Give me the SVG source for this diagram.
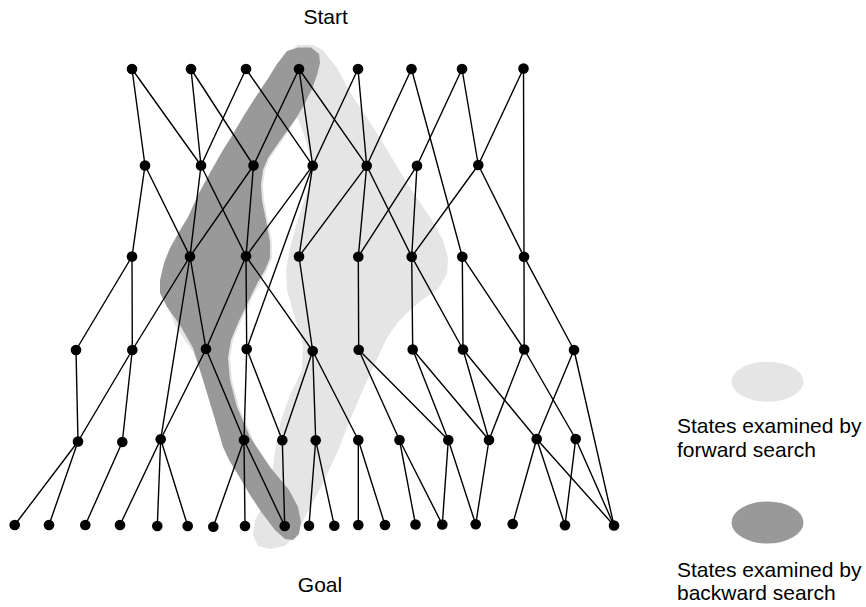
<svg xmlns="http://www.w3.org/2000/svg" width="866" height="607" viewBox="0 0 866 607">
<style>
.lt{fill:#e5e5e5}
.dk{fill:#999999}
.hole{fill:#ffffff}
#connectors line{stroke:#000;stroke-width:1.4;stroke-linecap:round}
.n{fill:#000}
text{font-family:"Liberation Sans",Arial,Helvetica,sans-serif;font-size:21px;fill:#000}
</style>
<rect width="866" height="607" fill="#fff"/>
<g id="regions">
<path id="forward-region" class="lt" d="M297,45 L313,45 L323,50 L337,68 L350,92 L367,118 L380,138 L395,163 L410,188 L430,217 L443,240 L448,258 L447,274 L438,289 L422,300 L410,310 L398,322 L387,338 L375,363 L362,392 L350,420 L337,453 L321,487 L307,513 L296,535 L285,546 L270,549 L258,546 L253,535 L255,520 L262,508 L250,490 L232,465 L218,420 L206,380 L193,352 L175,325 L166,300 L168,275 L180,245 L200,205 L225,160 L255,110 L285,58 Z"/>
<path id="hole" class="hole" d="M297,116 L305,138 L311,160 L311,175 L306,195 L297,222 L290,248 L286,270 L287,290 L294,315 L303,345 L302,370 L290,395 L281,420 L276,445 L273,466 L271,478 L262,464 L252,437 L239,407 L232,380 L230,358 L233,340 L241,321 L251,300 L260,283 L267,270 L272,258 L272,242 L268,220 L264,200 L263,185 L265,170 L270,158 L279,145 L289,131 Z"/>
<path id="backward-region" class="dk" d="M287,51 L298,47.5 L311,47.5 L319,54 L320,63 L317,75 L312,89 L305,103 L297,117 L287,131 L277,145 L268,158 L263,170 L261,185 L262,200 L266,220 L270,242 L270,258 L265,270 L258,282 L249,300 L239,321 L231,340 L228,358 L230,380 L237,407 L250,437 L270,467 L289,490 L298,507 L301,522 L299,534 L293,540 L285,539 L275,530 L262,513 L250,495 L237,473 L229,460 L223,447 L213,413 L203,380 L193,348 L180,325 L167,307 L160,293 L160,280 L164,263 L170,248 L179,232 L188,217 L199,193 L211,171 L223,150 L233,134 L243,117 L255,98 L267,80 L277,64 Z"/>
</g>
<g id="connectors">
<line x1="132" y1="69" x2="145" y2="165.5"/>
<line x1="132" y1="69" x2="201" y2="165.5"/>
<line x1="191" y1="69" x2="201" y2="165.5"/>
<line x1="191" y1="69" x2="253.5" y2="165.5"/>
<line x1="246" y1="69" x2="201" y2="165.5"/>
<line x1="246" y1="69" x2="312.7" y2="165.7"/>
<line x1="299" y1="69" x2="253.5" y2="165.5"/>
<line x1="299" y1="69" x2="312.7" y2="165.7"/>
<line x1="299" y1="69" x2="366.7" y2="165.7"/>
<line x1="358" y1="69" x2="312.7" y2="165.7"/>
<line x1="358" y1="69" x2="366.7" y2="165.7"/>
<line x1="411.5" y1="69" x2="366.7" y2="165.7"/>
<line x1="411.5" y1="69" x2="462.3" y2="256.7"/>
<line x1="462" y1="69" x2="417" y2="165.7"/>
<line x1="462" y1="69" x2="478.3" y2="165"/>
<line x1="523.5" y1="68.5" x2="478.3" y2="165"/>
<line x1="523.5" y1="68.5" x2="524" y2="256.7"/>
<line x1="145" y1="165.5" x2="132" y2="256.5"/>
<line x1="145" y1="165.5" x2="190" y2="256.5"/>
<line x1="201" y1="165.5" x2="190" y2="256.5"/>
<line x1="201" y1="165.5" x2="246" y2="256.3"/>
<line x1="253.5" y1="165.5" x2="190" y2="256.5"/>
<line x1="253.5" y1="165.5" x2="246" y2="256.3"/>
<line x1="312.7" y1="165.7" x2="246" y2="256.3"/>
<line x1="312.7" y1="165.7" x2="299" y2="256.5"/>
<line x1="312.7" y1="165.7" x2="246.7" y2="349"/>
<line x1="366.7" y1="165.7" x2="299" y2="256.5"/>
<line x1="366.7" y1="165.7" x2="358.3" y2="256.7"/>
<line x1="366.7" y1="165.7" x2="411.7" y2="256.7"/>
<line x1="417" y1="165.7" x2="358.3" y2="256.7"/>
<line x1="417" y1="165.7" x2="411.7" y2="256.7"/>
<line x1="478.3" y1="165" x2="411.7" y2="256.7"/>
<line x1="478.3" y1="165" x2="524" y2="256.7"/>
<line x1="132" y1="256.5" x2="76" y2="350"/>
<line x1="132" y1="256.5" x2="132.3" y2="350"/>
<line x1="190" y1="256.5" x2="132.3" y2="350"/>
<line x1="190" y1="256.5" x2="206" y2="349"/>
<line x1="190" y1="256.5" x2="160.7" y2="439.3"/>
<line x1="246" y1="256.3" x2="206" y2="349"/>
<line x1="246" y1="256.3" x2="246.7" y2="349"/>
<line x1="246" y1="256.3" x2="312.7" y2="351"/>
<line x1="299" y1="256.5" x2="312.7" y2="351"/>
<line x1="358.3" y1="256.7" x2="358.7" y2="349.7"/>
<line x1="411.7" y1="256.7" x2="412.7" y2="349.5"/>
<line x1="411.7" y1="256.7" x2="463" y2="349.5"/>
<line x1="462.3" y1="256.7" x2="463" y2="349.5"/>
<line x1="462.3" y1="256.7" x2="524.2" y2="349.5"/>
<line x1="524" y1="256.7" x2="524.2" y2="349.5"/>
<line x1="524" y1="256.7" x2="574" y2="350"/>
<line x1="76" y1="350" x2="78" y2="441.5"/>
<line x1="132.3" y1="350" x2="78" y2="441.5"/>
<line x1="132.3" y1="350" x2="122.3" y2="442"/>
<line x1="206" y1="349" x2="160.7" y2="439.3"/>
<line x1="206" y1="349" x2="244" y2="440"/>
<line x1="246.7" y1="349" x2="244" y2="440"/>
<line x1="246.7" y1="349" x2="282.3" y2="440.3"/>
<line x1="312.7" y1="351" x2="282.3" y2="440.3"/>
<line x1="312.7" y1="351" x2="315.7" y2="440.3"/>
<line x1="312.7" y1="351" x2="358.3" y2="440"/>
<line x1="358.7" y1="349.7" x2="399.5" y2="440"/>
<line x1="358.7" y1="349.7" x2="448.3" y2="440"/>
<line x1="412.7" y1="349.5" x2="448.3" y2="440"/>
<line x1="412.7" y1="349.5" x2="489" y2="440"/>
<line x1="463" y1="349.5" x2="489" y2="440"/>
<line x1="463" y1="349.5" x2="536.7" y2="439"/>
<line x1="524.2" y1="349.5" x2="489" y2="440"/>
<line x1="524.2" y1="349.5" x2="575.7" y2="439"/>
<line x1="574" y1="350" x2="536.7" y2="439"/>
<line x1="574" y1="350" x2="614" y2="525.5"/>
<line x1="78" y1="441.5" x2="14.7" y2="525"/>
<line x1="78" y1="441.5" x2="49" y2="525"/>
<line x1="122.3" y1="442" x2="85.3" y2="525"/>
<line x1="160.7" y1="439.3" x2="120" y2="525"/>
<line x1="160.7" y1="439.3" x2="157.3" y2="526"/>
<line x1="160.7" y1="439.3" x2="187.7" y2="526"/>
<line x1="244" y1="440" x2="213.3" y2="526.7"/>
<line x1="244" y1="440" x2="245" y2="526"/>
<line x1="244" y1="440" x2="284.7" y2="526"/>
<line x1="282.3" y1="440.3" x2="284.7" y2="526"/>
<line x1="315.7" y1="440.3" x2="309" y2="525.7"/>
<line x1="315.7" y1="440.3" x2="334.3" y2="525.7"/>
<line x1="358.3" y1="440" x2="358.3" y2="525"/>
<line x1="358.3" y1="440" x2="385" y2="525"/>
<line x1="399.5" y1="440" x2="415.5" y2="524.5"/>
<line x1="399.5" y1="440" x2="442.3" y2="524.5"/>
<line x1="448.3" y1="440" x2="442.3" y2="524.5"/>
<line x1="448.3" y1="440" x2="475.7" y2="524.3"/>
<line x1="489" y1="440" x2="475.7" y2="524.3"/>
<line x1="536.7" y1="439" x2="512.7" y2="524"/>
<line x1="536.7" y1="439" x2="565" y2="525.3"/>
<line x1="536.7" y1="439" x2="614" y2="525.5"/>
<line x1="575.7" y1="439" x2="565" y2="525.3"/>
<line x1="575.7" y1="439" x2="614" y2="525.5"/>
</g>
<g id="nodes">
<g id="a0"><circle class="n" cx="132" cy="69" r="5.3"/></g>
<g id="a1"><circle class="n" cx="191" cy="69" r="5.3"/></g>
<g id="a2"><circle class="n" cx="246" cy="69" r="5.3"/></g>
<g id="a3"><circle class="n" cx="299" cy="69" r="5.3"/></g>
<g id="a4"><circle class="n" cx="358" cy="69" r="5.3"/></g>
<g id="a5"><circle class="n" cx="411.5" cy="69" r="5.3"/></g>
<g id="a6"><circle class="n" cx="462" cy="69" r="5.3"/></g>
<g id="a7"><circle class="n" cx="523.5" cy="68.5" r="5.3"/></g>
<g id="b0"><circle class="n" cx="145" cy="165.5" r="5.3"/></g>
<g id="b1"><circle class="n" cx="201" cy="165.5" r="5.3"/></g>
<g id="b2"><circle class="n" cx="253.5" cy="165.5" r="5.3"/></g>
<g id="b3"><circle class="n" cx="312.7" cy="165.7" r="5.3"/></g>
<g id="b4"><circle class="n" cx="366.7" cy="165.7" r="5.3"/></g>
<g id="b5"><circle class="n" cx="417" cy="165.7" r="5.3"/></g>
<g id="b6"><circle class="n" cx="478.3" cy="165" r="5.3"/></g>
<g id="c0"><circle class="n" cx="132" cy="256.5" r="5.3"/></g>
<g id="c1"><circle class="n" cx="190" cy="256.5" r="5.3"/></g>
<g id="c2"><circle class="n" cx="246" cy="256.3" r="5.3"/></g>
<g id="c3"><circle class="n" cx="299" cy="256.5" r="5.3"/></g>
<g id="c4"><circle class="n" cx="358.3" cy="256.7" r="5.3"/></g>
<g id="c5"><circle class="n" cx="411.7" cy="256.7" r="5.3"/></g>
<g id="c6"><circle class="n" cx="462.3" cy="256.7" r="5.3"/></g>
<g id="c7"><circle class="n" cx="524" cy="256.7" r="5.3"/></g>
<g id="d0"><circle class="n" cx="76" cy="350" r="5.3"/></g>
<g id="d1"><circle class="n" cx="132.3" cy="350" r="5.3"/></g>
<g id="d2"><circle class="n" cx="206" cy="349" r="5.3"/></g>
<g id="d3"><circle class="n" cx="246.7" cy="349" r="5.3"/></g>
<g id="d4"><circle class="n" cx="312.7" cy="351" r="5.3"/></g>
<g id="d5"><circle class="n" cx="358.7" cy="349.7" r="5.3"/></g>
<g id="d6"><circle class="n" cx="412.7" cy="349.5" r="5.3"/></g>
<g id="d7"><circle class="n" cx="463" cy="349.5" r="5.3"/></g>
<g id="d8"><circle class="n" cx="524.2" cy="349.5" r="5.3"/></g>
<g id="d9"><circle class="n" cx="574" cy="350" r="5.3"/></g>
<g id="e0"><circle class="n" cx="78" cy="441.5" r="5.3"/></g>
<g id="e1"><circle class="n" cx="122.3" cy="442" r="5.3"/></g>
<g id="e2"><circle class="n" cx="160.7" cy="439.3" r="5.3"/></g>
<g id="e3"><circle class="n" cx="244" cy="440" r="5.3"/></g>
<g id="e4"><circle class="n" cx="282.3" cy="440.3" r="5.3"/></g>
<g id="e5"><circle class="n" cx="315.7" cy="440.3" r="5.3"/></g>
<g id="e6"><circle class="n" cx="358.3" cy="440" r="5.3"/></g>
<g id="e7"><circle class="n" cx="399.5" cy="440" r="5.3"/></g>
<g id="e8"><circle class="n" cx="448.3" cy="440" r="5.3"/></g>
<g id="e9"><circle class="n" cx="489" cy="440" r="5.3"/></g>
<g id="e10"><circle class="n" cx="536.7" cy="439" r="5.3"/></g>
<g id="e11"><circle class="n" cx="575.7" cy="439" r="5.3"/></g>
<g id="f0"><circle class="n" cx="14.7" cy="525" r="5.3"/></g>
<g id="f1"><circle class="n" cx="49" cy="525" r="5.3"/></g>
<g id="f2"><circle class="n" cx="85.3" cy="525" r="5.3"/></g>
<g id="f3"><circle class="n" cx="120" cy="525" r="5.3"/></g>
<g id="f4"><circle class="n" cx="157.3" cy="526" r="5.3"/></g>
<g id="f5"><circle class="n" cx="187.7" cy="526" r="5.3"/></g>
<g id="f6"><circle class="n" cx="213.3" cy="526.7" r="5.3"/></g>
<g id="f7"><circle class="n" cx="245" cy="526" r="5.3"/></g>
<g id="f8"><circle class="n" cx="284.7" cy="526" r="5.3"/></g>
<g id="f9"><circle class="n" cx="309" cy="525.7" r="5.3"/></g>
<g id="f10"><circle class="n" cx="334.3" cy="525.7" r="5.3"/></g>
<g id="f11"><circle class="n" cx="358.3" cy="525" r="5.3"/></g>
<g id="f12"><circle class="n" cx="385" cy="525" r="5.3"/></g>
<g id="f13"><circle class="n" cx="415.5" cy="524.5" r="5.3"/></g>
<g id="f14"><circle class="n" cx="442.3" cy="524.5" r="5.3"/></g>
<g id="f15"><circle class="n" cx="475.7" cy="524.3" r="5.3"/></g>
<g id="f16"><circle class="n" cx="512.7" cy="524" r="5.3"/></g>
<g id="f17"><circle class="n" cx="565" cy="525.3" r="5.3"/></g>
<g id="f18"><circle class="n" cx="614" cy="525.5" r="5.3"/></g>
</g>
<g id="labels">
<text x="303.5" y="24">Start</text>
<text x="320" y="592" text-anchor="middle">Goal</text>
</g>
<g id="legend">
<ellipse class="lt" cx="767.5" cy="381.7" rx="36" ry="20"/>
<text x="677" y="433">States examined by</text>
<text x="677" y="456.5">forward search</text>
<ellipse class="dk" cx="767.5" cy="522.5" rx="36" ry="21"/>
<text x="677" y="576.5">States examined by</text>
<text x="677" y="599.5">backward search</text>
</g>
</svg>
